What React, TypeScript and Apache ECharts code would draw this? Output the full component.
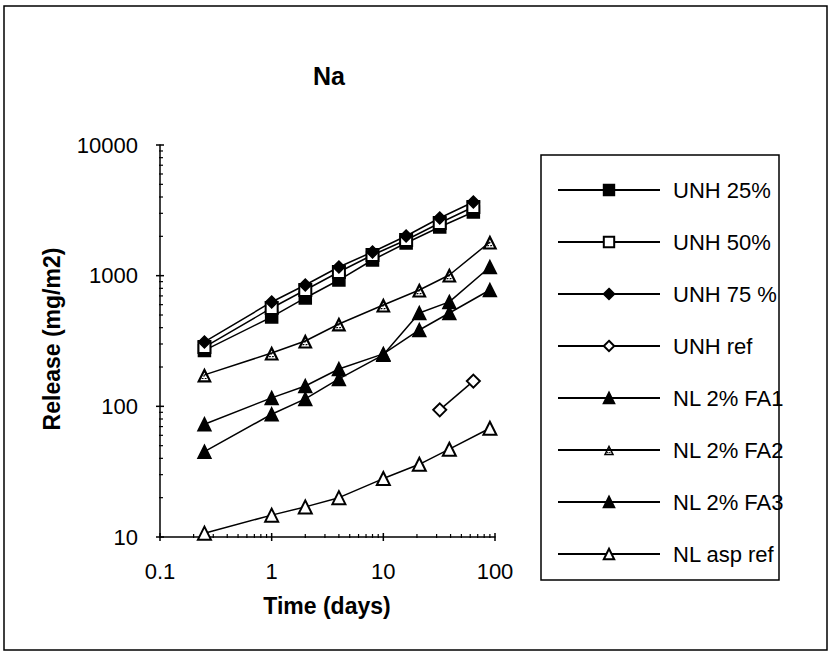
import React, { useEffect, useRef } from "react";
import * as echarts from "echarts";

// ---- data ----
const unhTimes = [0.25, 1, 2, 4, 8, 16, 32, 64];
const nlTimes = [0.25, 1, 2, 4, 10, 21, 39, 90];
const unhRefTimes = [32, 64];

const unh25 = [268, 483, 675, 926, 1318, 1778, 2357, 3070];
const unh50 = [284, 566, 777, 1067, 1439, 1876, 2530, 3354];
const unh75 = [311, 629, 848, 1165, 1518, 2012, 2763, 3660];
const unhRef = [94, 156];
const nlFA1 = [73, 116, 143, 193, 252, 384, 518, 777];
const nlFA2 = [174, 256, 316, 427, 596, 777, 1012, 1810];
const nlFA3 = [45, 87, 114, 162, 248, 518, 630, 1165];
const nlAspRef = [10.7, 14.7, 17, 20, 28, 36, 47, 68];

const seriesNames = [
  "UNH 25%",
  "UNH 50%",
  "UNH 75 %",
  "UNH ref",
  "NL 2% FA1",
  "NL 2% FA2",
  "NL 2% FA3",
  "NL asp ref",
];

// axis tick values
const xMajorTicks = [0.1, 1, 10, 100];
const yMajorTicks = [10, 100, 1000, 10000];
const xDecades = [0.1, 1, 10];
const yDecades = [10, 100, 1000];
const minorMultipliers = [2, 3, 4, 5, 6, 7, 8, 9];

const FONT = "'Liberation Sans', Arial, Helvetica, sans-serif";
const HATCH_TRI =
  "path://M50,0 L100,100 L0,100 Z M50,34 L23,86 L77,86 Z " +
  "M44,52 L56,52 L52,60 L40,60 Z " +
  "M34,70 L46,70 L42,78 L30,78 Z M54,70 L66,70 L62,78 L50,78 Z";

function pairs(xs: number[], ys: number[]) {
  return xs.map((x, i) => [x, ys[i]]);
}

export default function App() {
  const ref = useRef<HTMLDivElement>(null);

  useEffect(() => {
    document.body.style.margin = "0";
    const chart = echarts.init(ref.current!, null, { renderer: "svg" });

    const mk = (
      name: string,
      xs: number[],
      ys: number[],
      symbol: string,
      size: number,
      borderWidth = 1.5
    ) => ({
      name,
      type: "line",
      data: pairs(xs, ys),
      symbol,
      symbolSize: size,
      showSymbol: true,
      lineStyle: { color: "#000", width: 1.5 },
      itemStyle: { color: "#000", borderColor: "#000", borderWidth },
      emphasis: { disabled: true },
      z: 3,
    });

    const xTickData: number[][] = [];
    xMajorTicks.forEach((v) => xTickData.push([v, 10, 1]));
    xDecades.forEach((d) =>
      minorMultipliers.forEach((m) => xTickData.push([d * m, 10, 0]))
    );
    const yTickData: number[][] = [];
    yMajorTicks.forEach((v) => yTickData.push([0.1, v, 1]));
    yDecades.forEach((d) =>
      minorMultipliers.forEach((m) => yTickData.push([0.1, d * m, 0]))
    );

    const tickSeries = (name: string, data: number[][], dir: "x" | "y") => ({
      name,
      type: "custom",
      silent: true,
      clip: false,
      data,
      z: 5,
      renderItem: (params: any, api: any) => {
        const p = api.coord([api.value(0), api.value(1)]);
        const major = api.value(2) === 1;
        const a = major ? 4 : 1;
        const b = major ? 4 : 3;
        const shape =
          dir === "x"
            ? { x1: p[0], y1: p[1] - b, x2: p[0], y2: p[1] + a }
            : { x1: p[0] - a, y1: p[1], x2: p[0] + b, y2: p[1] };
        return {
          type: "line",
          shape,
          style: { stroke: "#000", lineWidth: major ? 1.5 : 1.2 },
        };
      },
    });

    const option: any = {
      animation: false,
      backgroundColor: "#fff",
      color: ["#000"],
      textStyle: { fontFamily: FONT, color: "#000" },
      grid: { left: 160, top: 145, width: 335, height: 392 },
      xAxis: {
        type: "log",
        logBase: 10,
        min: 0.1,
        max: 100,
        axisLine: { show: true, lineStyle: { color: "#000", width: 1.5 } },
        axisTick: { show: false },
        splitLine: { show: false },
        axisLabel: {
          fontSize: 22,
          fontFamily: FONT,
          color: "#000",
          margin: 23,
          formatter: (v: number) => String(v),
        },
      },
      yAxis: {
        type: "log",
        logBase: 10,
        min: 10,
        max: 10000,
        axisLine: { show: true, lineStyle: { color: "#000", width: 1.5 } },
        axisTick: { show: false },
        splitLine: { show: false },
        axisLabel: {
          fontSize: 22,
          fontFamily: FONT,
          color: "#000",
          margin: 22,
          formatter: (v: number) => String(v),
        },
      },
      legend: {
        data: seriesNames,
        orient: "vertical",
        left: 557,
        top: 179,
        padding: 0,
        itemWidth: 102,
        itemHeight: 13,
        itemGap: 30,
        selectedMode: false,
        textStyle: {
          fontSize: 22,
          fontFamily: FONT,
          color: "#000",
          padding: [0, 0, 0, 8],
        },
      },
      graphic: [
        {
          type: "rect",
          shape: { x: 4, y: 6, width: 823, height: 644 },
          style: { fill: "none", stroke: "#000", lineWidth: 1.5 },
          z: 0,
          silent: true,
        },
        {
          type: "rect",
          shape: { x: 541, y: 155, width: 238, height: 425 },
          style: { fill: "none", stroke: "#000", lineWidth: 1.5 },
          z: 1,
          silent: true,
        },
        {
          type: "text",
          x: 329,
          y: 76,
          style: {
            text: "Na",
            font: `bold 25px ${FONT}`,
            fill: "#000",
            align: "center",
            verticalAlign: "middle",
          },
        },
        {
          type: "text",
          x: 52,
          y: 339,
          rotation: Math.PI / 2,
          style: {
            text: "Release (mg/m2)",
            font: `bold 23px ${FONT}`,
            fill: "#000",
            align: "center",
            verticalAlign: "middle",
          },
        },
        {
          type: "text",
          x: 327,
          y: 606,
          style: {
            text: "Time (days)",
            font: `bold 23px ${FONT}`,
            fill: "#000",
            align: "center",
            verticalAlign: "middle",
          },
        },
      ],
      series: [
        mk(seriesNames[0], unhTimes, unh25, "rect", 12),
        mk(seriesNames[1], unhTimes, unh50, "emptyRect", 12),
        mk(seriesNames[2], unhTimes, unh75, "diamond", 12),
        mk(seriesNames[3], unhRefTimes, unhRef, "emptyDiamond", 13),
        mk(seriesNames[4], nlTimes, nlFA1, "triangle", 13),
        mk(seriesNames[5], nlTimes, nlFA2, HATCH_TRI, 15, 0),
        mk(seriesNames[6], nlTimes, nlFA3, "triangle", 13),
        mk(seriesNames[7], nlTimes, nlAspRef, "emptyTriangle", 13),
        tickSeries("xticks", xTickData, "x"),
        tickSeries("yticks", yTickData, "y"),
      ],
    };

    chart.setOption(option);
    return () => chart.dispose();
  }, []);

  return (
    <div
      ref={ref}
      style={{ position: "absolute", left: 0, top: 0, width: 831, height: 655 }}
    />
  );
}
